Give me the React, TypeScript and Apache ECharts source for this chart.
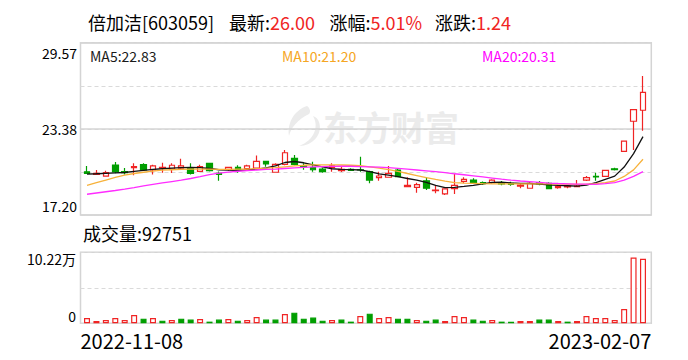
import React, { useEffect, useRef } from "react";
import * as echarts from "echarts";

const stockName = "倍加洁";
const stockCode = "603059";

const dates = [
  "2022-11-08", "2022-11-09", "2022-11-10", "2022-11-11", "2022-11-14", "2022-11-15", "2022-11-16", "2022-11-17", "2022-11-18",
  "2022-11-21", "2022-11-22", "2022-11-23", "2022-11-24", "2022-11-25", "2022-11-28", "2022-11-29", "2022-11-30",
  "2022-12-01", "2022-12-02", "2022-12-05", "2022-12-06", "2022-12-07", "2022-12-08", "2022-12-09", "2022-12-12",
  "2022-12-13", "2022-12-14", "2022-12-15", "2022-12-16", "2022-12-19", "2022-12-20", "2022-12-21", "2022-12-22",
  "2022-12-23", "2022-12-26", "2022-12-27", "2022-12-28", "2022-12-29", "2022-12-30",
  "2023-01-03", "2023-01-04", "2023-01-05", "2023-01-06", "2023-01-09", "2023-01-10", "2023-01-11", "2023-01-12",
  "2023-01-13", "2023-01-16", "2023-01-17", "2023-01-18", "2023-01-19", "2023-01-20", "2023-01-30", "2023-01-31",
  "2023-02-01", "2023-02-02", "2023-02-03", "2023-02-06", "2023-02-07",
];

const opens = [
  20.30, 20.12, 19.99, 20.79, 20.31, 20.60, 20.81, 20.43, 20.57, 20.50,
  20.57, 20.53, 20.33, 20.91, 20.19, 20.48, 20.62, 20.53, 20.57, 21.05,
  20.27, 20.84, 21.27, 20.74, 20.60, 20.50, 20.62, 20.38, 20.48, 20.45,
  20.31, 19.88, 19.91, 20.43, 19.23, 19.19, 19.66, 18.94, 18.71, 19.09,
  19.62, 19.71, 19.52, 19.52, 19.52, 19.48, 19.28, 19.12, 19.52, 19.48,
  19.16, 19.21, 19.23, 19.71, 19.98, 19.98, 20.52, 21.77, 23.93, 24.72,
];
const closes = [
  20.19, 20.19, 20.24, 20.29, 20.24, 20.67, 20.43, 20.72, 20.62, 20.77,
  20.72, 20.19, 20.67, 20.38, 20.12, 20.62, 20.48, 20.72, 21.05, 20.86,
  20.84, 21.67, 20.84, 20.67, 20.45, 20.31, 20.72, 20.48, 20.41, 20.43,
  19.71, 20.00, 20.19, 19.95, 19.33, 19.38, 19.12, 18.99, 19.07, 19.33,
  19.76, 19.52, 19.45, 19.71, 19.43, 19.40, 19.35, 19.48, 19.43, 19.09,
  19.23, 19.28, 19.28, 19.88, 19.94, 20.40, 20.46, 22.51, 24.76, 26.00,
];
const lows = [
  20.17, 20.10, 19.97, 20.19, 20.10, 20.05, 20.36, 20.10, 20.24, 20.22,
  20.43, 20.10, 20.29, 20.33, 19.66, 20.38, 20.24, 20.43, 20.48, 20.67,
  20.24, 20.77, 20.77, 20.45, 20.31, 20.24, 20.31, 20.29, 20.36, 20.31,
  19.48, 19.66, 19.88, 19.91, 19.23, 18.80, 18.99, 18.76, 18.64, 18.71,
  19.48, 19.43, 19.35, 19.45, 19.33, 19.30, 19.12, 19.12, 19.33, 19.05,
  19.09, 19.12, 19.23, 19.64, 19.66, 19.95, 20.40, 21.77, 21.87, 23.25,
];
const highs = [
  20.72, 20.43, 20.38, 21.00, 20.57, 20.91, 20.91, 20.81, 20.96, 20.91,
  21.24, 20.91, 20.81, 20.91, 20.33, 20.67, 20.77, 20.81, 21.48, 21.10,
  20.91, 21.87, 21.51, 20.91, 21.03, 20.60, 20.91, 20.67, 20.55, 21.39,
  20.38, 20.31, 20.72, 20.53, 19.91, 19.52, 19.91, 19.28, 19.12, 20.14,
  19.91, 19.83, 19.60, 19.76, 19.64, 19.59, 19.45, 19.55, 19.64, 19.55,
  19.33, 19.35, 19.71, 20.00, 20.24, 20.43, 20.60, 22.51, 24.79, 27.18,
];

const ma5 = [
  20.14, 20.16, 20.19, 20.22, 20.25, 20.33, 20.41, 20.47, 20.52, 20.56,
  20.60, 20.62, 20.60, 20.54, 20.45, 20.42, 20.41, 20.43, 20.50, 20.58,
  20.72, 20.97, 21.04, 20.95, 20.80, 20.65, 20.52, 20.48, 20.46, 20.43,
  20.31, 20.15, 20.07, 19.95, 19.82, 19.70, 19.55, 19.33, 19.17, 19.18,
  19.25, 19.33, 19.44, 19.54, 19.56, 19.50, 19.47, 19.46, 19.42, 19.36,
  19.32, 19.30, 19.27, 19.35, 19.52, 19.76, 19.99, 20.64, 21.61, 22.83,
];
const ma10 = [
  19.33, 19.52, 19.71, 19.90, 20.07, 20.18, 20.27, 20.35, 20.42, 20.45,
  20.48, 20.50, 20.50, 20.49, 20.48, 20.48, 20.49, 20.50, 20.53, 20.56,
  20.60, 20.66, 20.72, 20.77, 20.80, 20.80, 20.80, 20.79, 20.77, 20.74,
  20.66, 20.56, 20.46, 20.33, 20.18, 20.03, 19.88, 19.75, 19.63, 19.53,
  19.49, 19.47, 19.45, 19.44, 19.44, 19.44, 19.43, 19.43, 19.43, 19.44,
  19.42, 19.41, 19.40, 19.42, 19.45, 19.53, 19.64, 19.97, 20.44, 21.20,
];
const ma20 = [
  18.69, 18.78, 18.87, 18.96, 19.06, 19.17, 19.29, 19.40, 19.50, 19.60,
  19.70, 19.82, 19.95, 20.10, 20.20, 20.28, 20.34, 20.39, 20.43, 20.47,
  20.50, 20.54, 20.58, 20.62, 20.65, 20.67, 20.69, 20.70, 20.70, 20.68,
  20.66, 20.63, 20.60, 20.55, 20.49, 20.43, 20.37, 20.31, 20.24, 20.16,
  20.09, 20.01, 19.93, 19.85, 19.77, 19.70, 19.64, 19.59, 19.54, 19.49,
  19.46, 19.44, 19.42, 19.41, 19.40, 19.45, 19.52, 19.70, 19.97, 20.31,
];

const volumes = [
  7600, 3300, 4800, 7600, 4800, 12000, 6700, 7600, 3800, 4800,
  6700, 5300, 6200, 2400, 5300, 6200, 3800, 4800, 9100, 5300,
  5300, 13400, 15300, 6700, 8200, 3800, 4800, 5300, 2400, 10500,
  13900, 7600, 9100, 6700, 6700, 4800, 3800, 5300, 3300, 10500,
  9100, 5300, 3800, 4800, 2400, 2400, 3300, 3300, 5300, 5300,
  3300, 2400, 3300, 10500, 7600, 7600, 4800, 20600, 94600, 92751,
];
// 1 = red (up), -1 = green (down)
const volumeDir = [
  1, 1, 1, 1, 1, 1, -1, 1, -1, 1,
  -1, -1, 1, -1, -1, 1, -1, 1, 1, -1,
  -1, 1, -1, -1, -1, -1, 1, -1, -1, 1,
  -1, 1, 1, -1, -1, 1, -1, -1, 1, 1,
  1, -1, -1, 1, -1, -1, 1, 1, -1, -1,
  1, -1, 1, 1, 1, 1, 1, 1, 1, 1,
];

const priceMin = 17.2;
const priceMax = 29.57;
const priceTickLabels = ["17.20", "23.38", "29.57"];
const volumeMax = 102200;
const volumeTickLabels = ["0", "", "10.22万"];

const RED = "#f02424";
const GREEN = "#009e00";
const BORDER = "#d4d4d4";
const GRID_DASH = "#dadada";
const FONT = "'Noto Sans CJK SC', 'Noto Sans', sans-serif";

export default function App() {
  const ref = useRef<HTMLDivElement>(null);

  useEffect(() => {
    document.body.style.margin = "0";
    if (!ref.current) return;
    echarts.graphic.registerShape(
      "dfcfLogo",
      echarts.graphic.extendPath(
        "M20 0 C8 4 0 16 2 30 C4 22 10 14 22 8 C24 6 23 2 20 0 Z M26 10 C32 20 28 34 12 40 C26 40 36 28 32 16 C31 13 29 11 26 10 Z",
        {}
      )
    );
    const chart = echarts.init(ref.current, null, { renderer: "svg" });

    const n = closes.length;
    const last = closes[n - 1];
    const prev = closes[n - 2];
    const chg = last - prev;
    const pct = (chg / prev) * 100;

    const candleData = dates.map((_, i) => [opens[i], closes[i], lows[i], highs[i]]);
    const volData = volumes.map((v, i) => ({
      value: v,
      itemStyle:
        volumeDir[i] > 0
          ? { color: "#ffffff", borderColor: RED, borderWidth: 1.2 }
          : { color: GREEN, borderColor: GREEN, borderWidth: 1.2 },
    }));

    const textBase = { fontFamily: FONT, verticalAlign: "middle" };

    const option: any = {
      animation: false,
      backgroundColor: "#ffffff",
      grid: [
        { left: 80.5, top: 42.7, width: 570.8, height: 172.3, show: true, borderColor: BORDER, borderWidth: 1.5 },
        { left: 82.3, top: 42.7, width: 565.4, height: 172.3 },
        { left: 80.5, top: 252.3, width: 570.8, height: 71, show: true, borderColor: BORDER, borderWidth: 1.5 },
        { left: 82.3, top: 252.3, width: 565.4, height: 71 },
      ],
      xAxis: [
        { type: "value", gridIndex: 0, min: 0, max: 1, show: false },
        { type: "category", gridIndex: 1, data: dates, show: false, boundaryGap: true },
        { type: "value", gridIndex: 2, min: 0, max: 1, show: false },
        { type: "category", gridIndex: 3, data: dates, show: false, boundaryGap: true },
      ],
      yAxis: [
        {
          type: "value", gridIndex: 0, position: "left", min: 0, max: 4, interval: 1,
          axisLine: { show: false }, axisTick: { show: false }, axisLabel: { show: false },
          splitLine: { show: true, lineStyle: { color: GRID_DASH, width: 1, type: [4, 3] } },
        },
        {
          type: "value", gridIndex: 0, position: "left", min: 0, max: 2, interval: 1,
          axisLine: { show: false }, axisTick: { show: false },
          splitLine: { show: true, lineStyle: { color: BORDER, width: 1.5, type: "solid" } },
          axisLabel: {
            show: true, margin: 3.5, color: "#000", fontSize: 14, fontFamily: FONT,
            formatter: (v: number) =>
              v === 0 ? `{b|${priceTickLabels[0]}}` : v === 2 ? `{t|${priceTickLabels[2]}}` : `{m|${priceTickLabels[1]}}`,
            rich: {
              t: { padding: [20, 0, 0, 0] },
              b: { padding: [0, 0, 19, 0] },
              m: {},
            },
          },
        },
        { type: "value", gridIndex: 1, min: priceMin, max: priceMax, show: false },
        {
          type: "value", gridIndex: 2, position: "left", min: 0, max: 2, interval: 1,
          axisLine: { show: false }, axisTick: { show: false },
          splitLine: { show: true, lineStyle: { color: GRID_DASH, width: 1, type: [4, 3] } },
          axisLabel: {
            show: true, margin: 4.5, color: "#000", fontSize: 14, fontFamily: FONT,
            formatter: (v: number) =>
              v === 0 ? `{b|${volumeTickLabels[0]}}` : v === 2 ? `{t|${volumeTickLabels[2]}}` : "",
            rich: {
              t: { padding: [13, 0, 0, 0] },
              b: { padding: [0, 0, 14, 0] },
            },
          },
        },
        { type: "value", gridIndex: 3, min: 0, max: volumeMax, show: false },
      ],
      series: [
        {
          type: "candlestick", name: "K", xAxisIndex: 1, yAxisIndex: 2, data: candleData, barWidth: 6,
          itemStyle: { color: "#ffffff", color0: GREEN, borderColor: RED, borderColor0: GREEN, borderWidth: 1.2 },
        },
        {
          type: "line", name: "MA5", xAxisIndex: 1, yAxisIndex: 2, data: ma5, symbol: "none",
          lineStyle: { color: "#111111", width: 1.3 }, z: 3,
        },
        {
          type: "line", name: "MA10", xAxisIndex: 1, yAxisIndex: 2, data: ma10, symbol: "none",
          lineStyle: { color: "#f7b23b", width: 1.3 }, z: 3,
        },
        {
          type: "line", name: "MA20", xAxisIndex: 1, yAxisIndex: 2, data: ma20, symbol: "none",
          lineStyle: { color: "#ff2cff", width: 1.3 }, z: 3,
        },
        {
          type: "bar", name: "VOL", xAxisIndex: 3, yAxisIndex: 4, data: volData, barWidth: 6,
        },
      ],
      graphic: [
        { type: "dfcfLogo", x: 287, y: 106, scaleX: 1, scaleY: 1, z: -1, style: { fill: "#ebebeb" } },
        {
          type: "text", x: 323, y: 126, z: -1,
          style: { ...textBase, text: "东方财富", fontSize: 34, fontWeight: "bold", fill: "#ebebeb" },
        },
        { type: "text", x: 88, y: 21.7, style: { ...textBase, text: `${stockName}[${stockCode}]`, fontSize: 18, fill: "#000" } },
        {
          type: "text", x: 229, y: 21.7,
          style: { ...textBase, text: `最新:{r|${last.toFixed(2)}}`, fontSize: 18, fill: "#000", rich: { r: { fill: RED, fontSize: 18, fontFamily: FONT } } },
        },
        {
          type: "text", x: 329.5, y: 21.7,
          style: { ...textBase, text: `涨幅:{r|${pct.toFixed(2)}%}`, fontSize: 18, fill: "#000", rich: { r: { fill: RED, fontSize: 18, fontFamily: FONT } } },
        },
        {
          type: "text", x: 435, y: 21.7,
          style: { ...textBase, text: `涨跌:{r|${chg.toFixed(2)}}`, fontSize: 18, fill: "#000", rich: { r: { fill: RED, fontSize: 18, fontFamily: FONT } } },
        },
        { type: "text", x: 90, y: 56, style: { ...textBase, text: `MA5:${ma5[n - 1].toFixed(2)}`, fontSize: 14, fill: "#1a1a1a" } },
        { type: "text", x: 282, y: 56, style: { ...textBase, text: `MA10:${ma10[n - 1].toFixed(2)}`, fontSize: 14, fill: "#f5a623" } },
        { type: "text", x: 482, y: 56, style: { ...textBase, text: `MA20:${ma20[n - 1].toFixed(2)}`, fontSize: 14, fill: "#ff00ff" } },
        { type: "text", x: 83, y: 232.5, style: { ...textBase, text: `成交量:${volumes[n - 1]}`, fontSize: 18, fill: "#000" } },
        { type: "text", x: 80.5, y: 340, style: { ...textBase, text: dates[0], fontSize: 20, fill: "#000", align: "left" } },
        { type: "text", x: 651.3, y: 340, style: { ...textBase, text: dates[n - 1], fontSize: 20, fill: "#000", align: "right" } },
      ],
    };

    chart.setOption(option);
    return () => chart.dispose();
  }, []);

  return <div ref={ref} style={{ width: 688, height: 360 }} />;
}
